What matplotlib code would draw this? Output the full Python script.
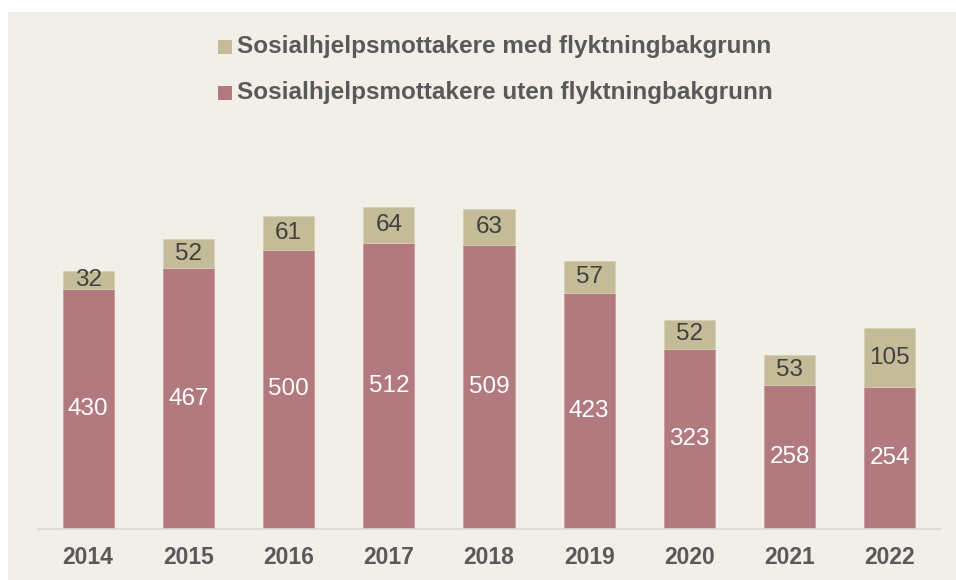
import matplotlib
matplotlib.use("Agg")
import matplotlib.pyplot as plt
from matplotlib.patches import Rectangle

plt.rcParams["font.family"] = ["Liberation Sans", "DejaVu Sans"]

years = ["2014", "2015", "2016", "2017", "2018", "2019", "2020", "2021", "2022"]
uten = [430, 467, 500, 512, 509, 423, 323, 258, 254]
med = [32, 52, 61, 64, 63, 57, 52, 53, 105]
legend_labels = ["Sosialhjelpsmottakere med flyktningbakgrunn",
                 "Sosialhjelpsmottakere uten flyktningbakgrunn"]

c_uten = "#B27A7E"
c_med = "#C4BC98"
bg = "#F2EFE8"
txt = "#595959"

W, H = 956, 580
fig = plt.figure(figsize=(W / 100, H / 100), dpi=100)
fig.patch.set_facecolor("white")

bgax = fig.add_axes([8 / W, 0, 1 - 8 / W, 1 - 12 / H], zorder=-5)
bgax.set_facecolor(bg)
bgax.set_xticks([])
bgax.set_yticks([])
for s in bgax.spines.values():
    s.set_visible(False)

ax_left, ax_right = 38 / W, 940 / W
ax_bottom, ax_top = (H - 529) / H, (H - 138) / H
ax = fig.add_axes([ax_left, ax_bottom, ax_right - ax_left, ax_top - ax_bottom], zorder=1)
ax.set_facecolor("none")

x = list(range(len(years)))
bw = 0.51
ax.bar(x, uten, width=bw, color=c_uten, edgecolor="#C99A9D", linewidth=0.6, zorder=2)
ax.bar(x, med, width=bw, bottom=uten, color=c_med, edgecolor="#D6D0B5", linewidth=0.6, zorder=2)

for xi, u, m in zip(x, uten, med):
    ax.text(xi, u / 2, str(u), ha="center", va="center", color="white", fontsize=17.5, zorder=3)
    ax.text(xi, u + m / 2, str(m), ha="center", va="center", color="#404040", fontsize=17.5, zorder=3)

ax.set_xlim(-0.5, len(years) - 0.5)
ax.set_ylim(0, 700)
ax.set_yticks([])
ax.set_xticks(x)
ax.set_xticklabels(years, fontsize=16.5, fontweight="bold", color=txt)
ax.tick_params(axis="x", length=0, pad=12)
for s in ["top", "right", "left"]:
    ax.spines[s].set_visible(False)
ax.spines["bottom"].set_color("#D9D9D9")
ax.spines["bottom"].set_linewidth(1.2)

# legend
for i, (lab, col) in enumerate(zip(legend_labels, [c_med, c_uten])):
    yc = 47 + i * 46
    fig.patches.append(Rectangle((218 / W, 1 - (yc + 7) / H), 14 / W, 14 / H,
                                 transform=fig.transFigure, facecolor=col, edgecolor="none",
                                 zorder=5))
    fig.text(237 / W, 1 - yc / H, lab, ha="left", va="center", fontsize=17.5,
             fontweight="bold", color=txt, zorder=5)

fig.savefig("out.png", dpi=100, facecolor=fig.get_facecolor())
